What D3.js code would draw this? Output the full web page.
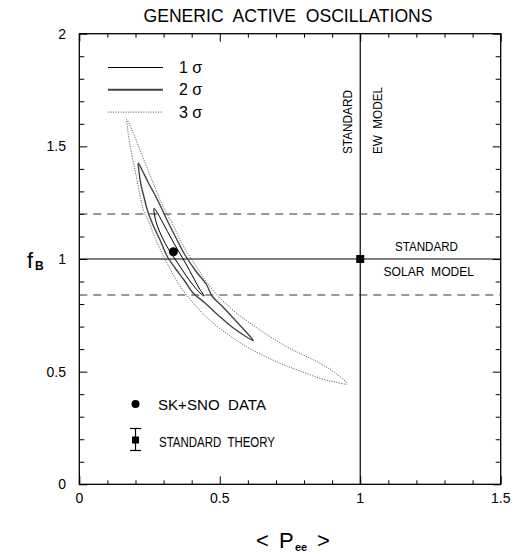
<!DOCTYPE html>
<html>
<head>
<meta charset="utf-8">
<script src="https://cdn.jsdelivr.net/npm/d3@7"></script>
<style>
  html, body { margin: 0; padding: 0; background: #fff; }
  svg text { font-family: "Liberation Sans", Arial, Helvetica, sans-serif; fill: #000; }
</style>
</head>
<body>
<svg id="chart" width="517" height="556"></svg>
<script>
// ---- data ----
const title = "GENERIC  ACTIVE  OSCILLATIONS";
const xTickLabels = [0, 0.5, 1, 1.5];
const yTickLabels = [0, 0.5, 1, 1.5, 2];
const xMinorTicks = d3.range(0, 16).map(i => i / 10);
const yMinorTicks = d3.range(0, 21).map(i => i / 10);
const ssmFluxBand = [0.84, 1.2];     // dashed lines
const ssmFlux = 1.0;                 // solid horizontal
const ewModelPee = 1.0;              // solid vertical
const bestFit = [0.335, 1.032];      // SK+SNO data point
const theory = [1.0, 1.0];           // standard theory point
const legendLabels = ["1 σ", "2 σ", "3 σ"];

const sigma1 = [
  [0.2659,1.2250],[0.2802,1.1997],[0.3015,1.1509],[0.3265,1.0932],[0.3549,1.0311],
  [0.3799,0.9778],[0.4048,0.9201],[0.4261,0.8713],[0.4439,0.8358],[0.4297,0.8491],
  [0.4048,0.8846],[0.3763,0.9334],[0.3478,0.9867],[0.3193,1.0399],[0.2944,1.0977],
  [0.2766,1.1509],[0.2677,1.1953]
];
const sigma2 = [
  [0.2100,1.4248],[0.2232,1.3950],[0.2446,1.3418],[0.2731,1.2752],[0.2873,1.2397],
  [0.3122,1.1731],[0.3407,1.1021],[0.3763,1.0178],[0.4119,0.9512],[0.4535,0.8846],
  [0.4724,0.8358],[0.5080,0.7914],[0.5543,0.7292],[0.5970,0.6715],[0.6194,0.6374],
  [0.5899,0.6582],[0.5436,0.6982],[0.4938,0.7514],[0.4475,0.8047],[0.4048,0.8491],
  [0.3727,0.9068],[0.3407,0.9601],[0.3122,1.0133],[0.2873,1.0843],[0.2624,1.1509],
  [0.2421,1.2175],[0.2303,1.2752],[0.2197,1.3284],[0.2125,1.3861]
];
const sigma3 = [
  [0.1687,1.6200],[0.1876,1.5726],[0.2161,1.4838],[0.2446,1.3950],[0.2731,1.3062],
  [0.2873,1.2619],[0.3051,1.2175],[0.3336,1.1509],[0.3621,1.0755],[0.3941,1.0089],
  [0.4297,0.9423],[0.4653,0.8771],[0.5080,0.8180],[0.5603,0.7590],[0.6433,0.6849],
  [0.7383,0.6107],[0.8569,0.5371],[0.9210,0.4851],[0.9530,0.4452],[0.9103,0.4541],
  [0.8569,0.4705],[0.7857,0.5029],[0.7145,0.5371],[0.5960,0.6107],[0.4770,0.7146],
  [0.4119,0.7958],[0.3763,0.8491],[0.3407,0.9157],[0.3158,0.9734],[0.2980,1.0178],
  [0.2695,1.0932],[0.2481,1.1642],[0.2278,1.2175],[0.2161,1.2841],[0.1983,1.3950],
  [0.1805,1.5060],[0.1716,1.5815]
];

// ---- drawing ----
const svg = d3.select("#chart");
const x = d3.scaleLinear().domain([0, 1.5]).range([79.3, 500.7]);
const y = d3.scaleLinear().domain([0, 2]).range([484.3, 33.7]);

const styles = [
  { stroke: "#000", width: 1.0, dash: null },
  { stroke: "#444", width: 1.4, dash: null },
  { stroke: "#666", width: 1.0, dash: "1.2,1.3" }
];

// title
svg.append("text").attr("x", 288).attr("y", 22).attr("text-anchor", "middle")
  .attr("font-size", 18).attr("textLength", 289).attr("lengthAdjust", "spacingAndGlyphs")
  .style("white-space", "pre").text(title);

// frame
svg.append("rect").attr("x", x(0)).attr("y", y(2)).attr("width", x(1.5) - x(0))
  .attr("height", y(0) - y(2)).attr("fill", "none").attr("stroke", "#000").attr("stroke-width", 1.3);

// axes via d3 axis generators (inward ticks)
function isMajor(v) { return Math.abs(v * 2 - Math.round(v * 2)) < 1e-6; }
const bottomAxis = svg.append("g").attr("transform", `translate(0,${y(0)})`)
  .call(d3.axisBottom(x).tickValues(xMinorTicks).tickSize(0).tickFormat(""));
bottomAxis.select(".domain").remove();
bottomAxis.selectAll(".tick line").attr("y2", d => isMajor(d) ? -8 : -4).attr("stroke", "#000");
const topAxis = svg.append("g").attr("transform", `translate(0,${y(2)})`)
  .call(d3.axisTop(x).tickValues(xMinorTicks).tickSize(0).tickFormat(""));
topAxis.select(".domain").remove();
topAxis.selectAll(".tick line").attr("y2", d => isMajor(d) ? 8 : 4).attr("stroke", "#000");
const leftAxis = svg.append("g").attr("transform", `translate(${x(0)},0)`)
  .call(d3.axisLeft(y).tickValues(yMinorTicks).tickSize(0).tickFormat(""));
leftAxis.select(".domain").remove();
leftAxis.selectAll(".tick line").attr("x2", d => isMajor(d) ? 8 : 5).attr("stroke", "#000");
const rightAxis = svg.append("g").attr("transform", `translate(${x(1.5)},0)`)
  .call(d3.axisRight(y).tickValues(yMinorTicks).tickSize(0).tickFormat(""));
rightAxis.select(".domain").remove();
rightAxis.selectAll(".tick line").attr("x2", d => isMajor(d) ? -8 : -5).attr("stroke", "#000");

// tick labels
svg.selectAll(".xlab").data(xTickLabels).enter().append("text")
  .attr("x", d => x(d)).attr("y", 503).attr("text-anchor", "middle").attr("font-size", 14)
  .text(d => d3.format("")(d));
svg.selectAll(".ylab").data(yTickLabels).enter().append("text")
  .attr("x", 66).attr("y", d => y(d) + 5).attr("text-anchor", "end").attr("font-size", 14)
  .text(d => d3.format("")(d));

// axis titles
const xl = svg.append("g");
xl.append("text").attr("x", 256).attr("y", 548).attr("font-size", 22).text("<");
xl.append("text").attr("x", 279).attr("y", 548).attr("font-size", 22).text("P");
xl.append("text").attr("x", 295).attr("y", 551).attr("font-size", 11).attr("font-weight", "bold").text("ee");
xl.append("text").attr("x", 317).attr("y", 548).attr("font-size", 22).text(">");
svg.append("text").attr("x", 27).attr("y", 268).attr("font-size", 22).text("f");
svg.append("text").attr("x", 35).attr("y", 270).attr("font-size", 12).attr("font-weight", "bold").text("B");

// reference lines
svg.append("line").attr("x1", x(ewModelPee)).attr("x2", x(ewModelPee)).attr("y1", y(2)).attr("y2", y(0))
  .attr("stroke", "#000").attr("stroke-width", 1.2);
svg.append("line").attr("x1", x(0)).attr("x2", x(1.5)).attr("y1", y(ssmFlux)).attr("y2", y(ssmFlux))
  .attr("stroke", "#000").attr("stroke-width", 1.2);
svg.selectAll(".band").data(ssmFluxBand).enter().append("line")
  .attr("x1", x(0)).attr("x2", x(1.5)).attr("y1", d => y(d)).attr("y2", d => y(d))
  .attr("stroke", "#333").attr("stroke-width", 1.1).attr("stroke-dasharray", "8,6");

// contours
const line = d3.line().x(d => x(d[0])).y(d => y(d[1])).curve(d3.curveCatmullRomClosed.alpha(0.5));
[sigma3, sigma2, sigma1].forEach((c, i) => {
  const s = styles[2 - i];
  svg.append("path").attr("d", line(c)).attr("fill", "none").attr("stroke", s.stroke)
    .attr("stroke-width", s.width).attr("stroke-dasharray", s.dash).attr("stroke-linejoin", "round");
});

// points
svg.append("circle").attr("cx", x(bestFit[0])).attr("cy", y(bestFit[1])).attr("r", 4.5).attr("fill", "#000");
svg.append("rect").attr("x", x(theory[0]) - 4).attr("y", y(theory[1]) - 4).attr("width", 8).attr("height", 8).attr("fill", "#000");

// legend (sigma lines)
const legendStroke = [1.0, 2.0, 1.0];
legendLabels.forEach((lab, i) => {
  const ly = 67.5 + i * 22.3;
  svg.append("line").attr("x1", 108).attr("x2", 163).attr("y1", ly).attr("y2", ly)
    .attr("stroke", styles[i].stroke).attr("stroke-width", legendStroke[i]).attr("stroke-dasharray", styles[i].dash);
  svg.append("text").attr("x", 179).attr("y", ly + 5.5).attr("font-size", 16).style("white-space", "pre").text(lab);
});

// legend (points)
svg.append("circle").attr("cx", 135.5).attr("cy", 404).attr("r", 4).attr("fill", "#000");
svg.append("text").attr("x", 158).attr("y", 410).attr("font-size", 14.5).attr("textLength", 108)
  .attr("lengthAdjust", "spacingAndGlyphs").style("white-space", "pre").text("SK+SNO  DATA");
svg.append("rect").attr("x", 132).attr("y", 436.5).attr("width", 7).attr("height", 7).attr("fill", "#000");
svg.append("line").attr("x1", 135.5).attr("x2", 135.5).attr("y1", 428.5).attr("y2", 450.5).attr("stroke", "#000").attr("stroke-width", 1.2);
svg.append("line").attr("x1", 130).attr("x2", 141).attr("y1", 428.5).attr("y2", 428.5).attr("stroke", "#000").attr("stroke-width", 1.2);
svg.append("line").attr("x1", 130).attr("x2", 141).attr("y1", 450.5).attr("y2", 450.5).attr("stroke", "#000").attr("stroke-width", 1.2);
svg.append("text").attr("x", 159).attr("y", 447).attr("font-size", 14.5).attr("textLength", 116)
  .attr("lengthAdjust", "spacingAndGlyphs").style("white-space", "pre").text("STANDARD  THEORY");

// annotations
svg.append("text").attr("transform", "translate(352,154) rotate(-90)").attr("font-size", 13)
  .attr("textLength", 64).attr("lengthAdjust", "spacingAndGlyphs").text("STANDARD");
svg.append("text").attr("transform", "translate(381.5,154) rotate(-90)").attr("font-size", 13)
  .attr("textLength", 67).attr("lengthAdjust", "spacingAndGlyphs").style("white-space", "pre").text("EW  MODEL");
svg.append("text").attr("x", 395).attr("y", 250.5).attr("font-size", 12.5)
  .attr("textLength", 63).attr("lengthAdjust", "spacingAndGlyphs").text("STANDARD");
svg.append("text").attr("x", 383.5).attr("y", 276).attr("font-size", 12.5)
  .attr("textLength", 90.5).attr("lengthAdjust", "spacingAndGlyphs").style("white-space", "pre").text("SOLAR  MODEL");
</script>
</body>
</html>
